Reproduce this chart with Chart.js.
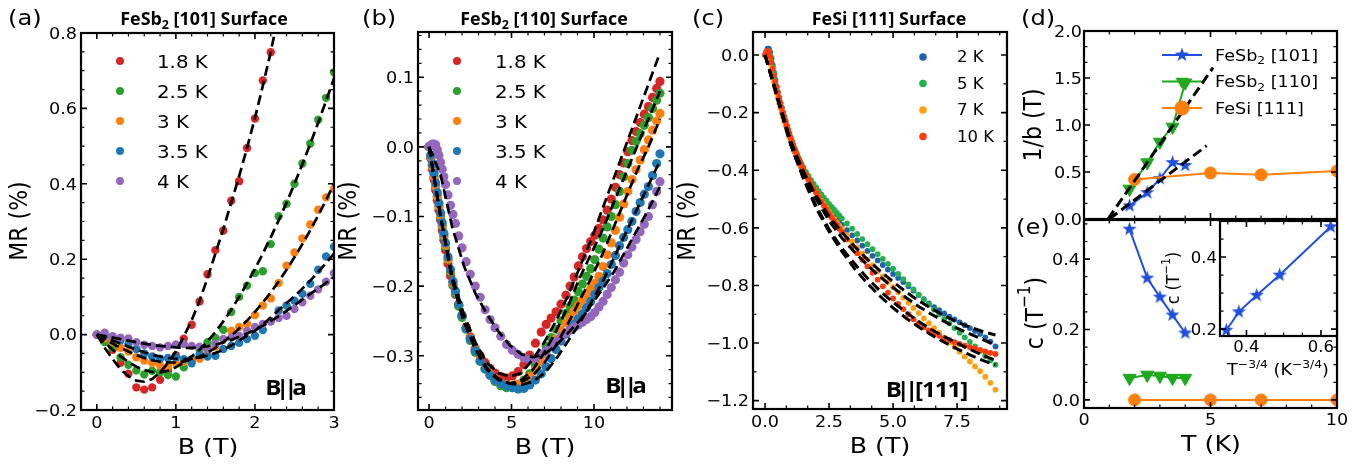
<!DOCTYPE html>
<html><head><meta charset="utf-8">
<script src="https://cdn.jsdelivr.net/npm/chart.js@4.4.1/dist/chart.umd.min.js"></script>
<style>
html,body{margin:0;padding:0;background:#fff;}
body{width:1371px;height:464px;position:relative;overflow:hidden;}
canvas{position:absolute;left:0;top:0;}
</style></head>
<body>
<canvas id="pa" width="1371" height="464"></canvas>
<canvas id="pb" width="1371" height="464"></canvas>
<canvas id="pc" width="1371" height="464"></canvas>
<canvas id="pd" width="1371" height="464"></canvas>
<canvas id="pe" width="1371" height="464"></canvas>
<canvas id="pi" width="1371" height="464"></canvas>
<script>
// ================= DATA =================
// ---- (a) FeSb2 [101] surface ----
const aLabels = ['1.8 K','2.5 K','3 K','3.5 K','4 K'];
const aB = [0,0.1,0.2,0.3,0.4,0.5,0.6,0.7,0.8,0.9,1.0,1.1,1.2,1.3,1.4,1.5,1.6,1.7,1.8,1.9,2.0,2.1,2.2,2.3,2.4,2.5,2.6,2.7,2.8,2.9,3.0];
const aMR18 = [0,-0.015,-0.04,-0.075,-0.104,-0.14,-0.146,-0.14,-0.12,-0.095,-0.055,-0.011,0.026,0.088,0.16,0.224,0.276,0.355,0.407,0.495,0.573,0.674,0.749];
const aMR25 = [0,-0.02,-0.035,-0.06,-0.08,-0.095,-0.106,-0.096,-0.1,-0.107,-0.111,-0.087,-0.065,-0.04,-0.02,-0.009,0.013,0.06,0.1,0.13,0.163,0.168,0.24,0.314,0.347,0.4,0.454,0.507,0.57,0.628,0.696];
const aMR3  = [0,-0.01,-0.02,-0.035,-0.045,-0.06,-0.069,-0.075,-0.082,-0.085,-0.076,-0.072,-0.068,-0.064,-0.05,-0.032,-0.012,0.01,0.02,0.028,0.052,0.077,0.096,0.137,0.183,0.218,0.255,0.292,0.331,0.364,0.386];
const aMR35 = [0,-0.003,-0.005,-0.015,-0.025,-0.038,-0.05,-0.058,-0.064,-0.062,-0.06,-0.065,-0.076,-0.053,-0.058,-0.056,-0.038,-0.03,-0.022,-0.012,-0.003,0.012,0.035,0.064,0.077,0.09,0.108,0.135,0.172,0.207,0.233];
const aMR4  = [0,0.005,-0.005,-0.008,-0.01,-0.02,-0.027,-0.03,-0.034,-0.03,-0.026,-0.025,-0.03,-0.032,-0.038,-0.025,-0.012,-0.008,-0.003,0.01,0.02,0.028,0.035,0.044,0.05,0.068,0.086,0.103,0.12,0.14,0.163];
const aFitB18 = [0,0.1,0.2,0.3,0.4,0.5,0.6,0.7,0.8,0.9,1.0,1.1,1.2,1.3,1.4,1.5,1.6,1.7,1.8,1.9,2.0,2.1,2.2,2.25];
const aFit18 = [0,-0.035,-0.065,-0.092,-0.11,-0.122,-0.125,-0.118,-0.1,-0.075,-0.045,-0.005,0.038,0.09,0.15,0.215,0.28,0.35,0.42,0.495,0.575,0.66,0.75,0.8];
const aFit25 = [0,-0.02,-0.04,-0.058,-0.073,-0.085,-0.094,-0.099,-0.1,-0.096,-0.087,-0.073,-0.058,-0.04,-0.018,0.007,0.035,0.066,0.1,0.136,0.174,0.215,0.258,0.303,0.35,0.4,0.452,0.506,0.562,0.62,0.68];
const aFit3  = [0,-0.012,-0.024,-0.035,-0.045,-0.054,-0.062,-0.068,-0.072,-0.074,-0.074,-0.071,-0.066,-0.058,-0.048,-0.035,-0.02,-0.003,0.016,0.037,0.06,0.085,0.112,0.141,0.172,0.205,0.24,0.277,0.316,0.357,0.4];
const aFit35 = [0,-0.008,-0.016,-0.024,-0.032,-0.04,-0.047,-0.053,-0.058,-0.062,-0.064,-0.065,-0.064,-0.061,-0.056,-0.049,-0.04,-0.029,-0.016,-0.003,0.01,0.027,0.045,0.065,0.083,0.102,0.122,0.143,0.166,0.19,0.215];
const aFit4  = [0,-0.004,-0.008,-0.012,-0.016,-0.02,-0.024,-0.027,-0.03,-0.032,-0.034,-0.035,-0.035,-0.034,-0.031,-0.027,-0.021,-0.014,-0.006,0.003,0.013,0.024,0.036,0.049,0.063,0.078,0.093,0.108,0.122,0.137,0.152];
const aXTicks = [0,1,2,3];
const aYTicks = [-0.2,0,0.2,0.4,0.6,0.8];

// ---- (b) FeSb2 [110] surface ----
const bLabels = ['1.8 K','2.5 K','3 K','3.5 K','4 K'];
const bB = [0,0.1,0.2,0.3,0.4,0.5,0.6,0.7,0.8,0.9,1.0,1.15,1.3,1.45,1.6,1.8,2.0,2.25,2.5,2.8,3.1,3.4,3.7,4.0,4.35,4.7,5.05,5.4,5.75,6.1,6.45,6.8,7.1,7.4,7.7,8.0,8.3,8.55,8.8,9.05,9.3,9.55,9.8,10.05,10.3,10.55,10.8,11.05,11.3,11.55,11.8,12.05,12.3,12.55,12.8,13.05,13.3,13.55,13.8,14.0];
const bMR18 = [0,-0.016,-0.032,-0.047,-0.062,-0.077,-0.091,-0.105,-0.12,-0.134,-0.148,-0.168,-0.185,-0.199,-0.212,-0.228,-0.243,-0.259,-0.273,-0.29,-0.3,-0.31,-0.318,-0.325,-0.33,-0.332,-0.329,-0.323,-0.313,-0.299,-0.282,-0.266,-0.255,-0.246,-0.237,-0.226,-0.213,-0.2,-0.187,-0.171,-0.158,-0.146,-0.136,-0.127,-0.117,-0.105,-0.091,-0.075,-0.058,-0.04,-0.023,-0.007,0.009,0.022,0.035,0.047,0.058,0.071,0.084,0.094];
const bMR25 = [0,-0.014,-0.029,-0.043,-0.057,-0.071,-0.086,-0.1,-0.114,-0.129,-0.143,-0.162,-0.18,-0.197,-0.211,-0.229,-0.245,-0.262,-0.278,-0.295,-0.308,-0.319,-0.328,-0.337,-0.343,-0.346,-0.345,-0.341,-0.335,-0.326,-0.314,-0.298,-0.286,-0.274,-0.262,-0.25,-0.239,-0.229,-0.22,-0.208,-0.197,-0.186,-0.175,-0.162,-0.147,-0.131,-0.115,-0.1,-0.083,-0.064,-0.043,-0.024,-0.005,0.008,0.019,0.031,0.042,0.055,0.067,0.077];
const bMR3  = [0,-0.014,-0.028,-0.043,-0.057,-0.071,-0.085,-0.098,-0.112,-0.127,-0.141,-0.161,-0.178,-0.195,-0.208,-0.226,-0.242,-0.26,-0.275,-0.292,-0.306,-0.317,-0.326,-0.333,-0.339,-0.342,-0.343,-0.341,-0.337,-0.33,-0.321,-0.309,-0.298,-0.287,-0.276,-0.264,-0.253,-0.245,-0.236,-0.228,-0.22,-0.212,-0.204,-0.196,-0.186,-0.172,-0.155,-0.138,-0.12,-0.101,-0.082,-0.064,-0.047,-0.033,-0.019,-0.004,0.01,0.024,0.037,0.048];
const bMR35 = [0,-0.012,-0.025,-0.038,-0.052,-0.066,-0.081,-0.095,-0.109,-0.124,-0.138,-0.158,-0.176,-0.193,-0.207,-0.226,-0.242,-0.261,-0.276,-0.293,-0.308,-0.319,-0.328,-0.335,-0.34,-0.343,-0.346,-0.348,-0.347,-0.342,-0.335,-0.326,-0.316,-0.304,-0.291,-0.279,-0.269,-0.263,-0.255,-0.247,-0.24,-0.231,-0.222,-0.212,-0.202,-0.193,-0.182,-0.169,-0.156,-0.142,-0.13,-0.119,-0.107,-0.093,-0.08,-0.068,-0.057,-0.041,-0.024,-0.01];
const bMR4  = [0,0.002,0.004,0.004,0.003,-0.004,-0.012,-0.022,-0.032,-0.043,-0.054,-0.069,-0.084,-0.097,-0.11,-0.128,-0.145,-0.165,-0.183,-0.2,-0.216,-0.234,-0.248,-0.26,-0.272,-0.284,-0.292,-0.298,-0.303,-0.306,-0.304,-0.298,-0.293,-0.287,-0.28,-0.273,-0.267,-0.263,-0.259,-0.256,-0.252,-0.248,-0.244,-0.238,-0.23,-0.222,-0.212,-0.202,-0.191,-0.18,-0.167,-0.155,-0.144,-0.133,-0.122,-0.111,-0.1,-0.083,-0.064,-0.05];
const bFitB = [0,0.7,1.4,2.1,2.8,3.5,4.2,4.9,5.6,6.3,7.0,7.7,8.4,9.1,9.8,10.5,11.2,11.9,12.6,13.3,14.0];
const bFit18 = [0,-0.1,-0.185,-0.24,-0.28,-0.31,-0.325,-0.33,-0.325,-0.305,-0.28,-0.25,-0.215,-0.175,-0.135,-0.09,-0.045,0.0,0.045,0.09,0.135];
const bFit25 = [0,-0.1,-0.19,-0.25,-0.29,-0.32,-0.335,-0.34,-0.335,-0.32,-0.295,-0.265,-0.23,-0.19,-0.155,-0.12,-0.08,-0.04,0.0,0.04,0.08];
const bFit3  = [0,-0.1,-0.19,-0.25,-0.29,-0.318,-0.333,-0.34,-0.338,-0.328,-0.31,-0.285,-0.255,-0.222,-0.19,-0.155,-0.115,-0.075,-0.035,0.0,0.04];
const bFit35 = [0,-0.1,-0.19,-0.25,-0.29,-0.318,-0.333,-0.34,-0.342,-0.337,-0.325,-0.305,-0.28,-0.255,-0.225,-0.195,-0.16,-0.125,-0.09,-0.055,-0.02];
const bFit4  = [0,-0.04,-0.115,-0.17,-0.21,-0.24,-0.265,-0.285,-0.298,-0.302,-0.298,-0.285,-0.268,-0.25,-0.228,-0.205,-0.18,-0.15,-0.12,-0.09,-0.057];
const bXTicks = [0,5,10];
const bYTicks = [-0.3,-0.2,-0.1,0,0.1];

// ---- (c) FeSi [111] surface ----
const cLabels = ['2 K','5 K','7 K','10 K'];
const cB = [0,0.05,0.1,0.15,0.2,0.25,0.3,0.35,0.4,0.45,0.5,0.55,0.6,0.65,0.7,0.75,0.8,0.85,0.9,0.95,1.0,1.05,1.1,1.15,1.2,1.25,1.3,1.35,1.4,1.45,1.5,
  1.6,1.7,1.8,1.9,2.0,2.1,2.2,2.3,2.4,2.5,2.6,2.7,2.8,2.9,3.0,
  3.2,3.4,3.6,3.8,4.0,4.2,4.4,4.6,4.8,5.0,5.2,5.4,5.6,5.8,6.0,6.2,6.4,6.6,6.8,7.0,7.2,7.4,7.6,7.8,8.0,8.2,8.4,8.6,8.8,9.0];
const cMR2  = [0,0.012,0.022,0.022,0.01,-0.012,-0.035,-0.06,-0.085,-0.108,-0.128,-0.148,-0.166,-0.183,-0.2,-0.217,-0.233,-0.249,-0.265,-0.28,-0.295,-0.308,-0.321,-0.334,-0.346,-0.357,-0.368,-0.378,-0.388,-0.397,-0.405,
  -0.42,-0.435,-0.449,-0.463,-0.477,-0.49,-0.503,-0.515,-0.527,-0.538,-0.549,-0.56,-0.57,-0.58,-0.59,
  -0.608,-0.626,-0.644,-0.662,-0.68,-0.697,-0.713,-0.729,-0.745,-0.76,-0.774,-0.788,-0.803,-0.818,-0.833,-0.848,-0.862,-0.875,-0.886,-0.897,-0.908,-0.918,-0.928,-0.938,-0.948,-0.958,-0.968,-0.98,-0.995,-1.012];
const cMR5  = [0,0.008,0.015,0.013,0,-0.02,-0.042,-0.065,-0.088,-0.11,-0.13,-0.148,-0.165,-0.182,-0.198,-0.214,-0.229,-0.244,-0.258,-0.272,-0.286,-0.299,-0.311,-0.323,-0.334,-0.345,-0.355,-0.365,-0.374,-0.383,-0.391,
  -0.406,-0.42,-0.434,-0.447,-0.46,-0.472,-0.484,-0.495,-0.506,-0.517,-0.527,-0.537,-0.547,-0.557,-0.567,
  -0.585,-0.603,-0.621,-0.639,-0.657,-0.674,-0.691,-0.708,-0.725,-0.742,-0.76,-0.778,-0.796,-0.814,-0.832,-0.85,-0.867,-0.884,-0.9,-0.916,-0.932,-0.948,-0.964,-0.98,-0.996,-1.012,-1.028,-1.045,-1.06,-1.075];
const cMR7  = [0,0.004,0.002,-0.012,-0.03,-0.05,-0.072,-0.093,-0.113,-0.132,-0.15,-0.167,-0.183,-0.199,-0.214,-0.229,-0.243,-0.257,-0.27,-0.283,-0.296,-0.308,-0.32,-0.332,-0.343,-0.354,-0.364,-0.374,-0.384,-0.393,-0.402,
  -0.418,-0.434,-0.449,-0.464,-0.478,-0.492,-0.506,-0.519,-0.532,-0.545,-0.557,-0.569,-0.581,-0.592,-0.603,
  -0.625,-0.647,-0.668,-0.689,-0.71,-0.73,-0.75,-0.769,-0.788,-0.806,-0.824,-0.842,-0.86,-0.878,-0.896,-0.914,-0.931,-0.948,-0.965,-0.982,-0.998,-1.014,-1.03,-1.047,-1.064,-1.081,-1.098,-1.117,-1.138,-1.162];
const cMR10 = [0,0.01,0.015,0.01,-0.005,-0.025,-0.048,-0.07,-0.092,-0.112,-0.131,-0.149,-0.166,-0.183,-0.199,-0.215,-0.23,-0.245,-0.259,-0.273,-0.287,-0.3,-0.313,-0.325,-0.337,-0.348,-0.359,-0.369,-0.379,-0.389,-0.398,
  -0.415,-0.432,-0.448,-0.464,-0.479,-0.494,-0.509,-0.523,-0.537,-0.551,-0.564,-0.577,-0.59,-0.603,-0.615,
  -0.64,-0.664,-0.688,-0.711,-0.734,-0.756,-0.78,-0.803,-0.825,-0.845,-0.864,-0.882,-0.9,-0.917,-0.932,-0.945,-0.956,-0.966,-0.975,-0.983,-0.99,-0.997,-1.003,-1.009,-1.014,-1.019,-1.024,-1.029,-1.034,-1.038];
const cFitB = [0,0.5,1.0,1.5,2.0,2.5,3.0,3.5,4.0,4.5,5.0,5.5,6.0,6.5,7.0,7.5,8.0,8.5,9.0];
const cFit1 = [0,-0.15,-0.3,-0.405,-0.49,-0.56,-0.615,-0.665,-0.71,-0.75,-0.787,-0.822,-0.853,-0.88,-0.905,-0.927,-0.945,-0.96,-0.972];
const cFit2 = [0,-0.15,-0.3,-0.41,-0.5,-0.575,-0.635,-0.685,-0.73,-0.77,-0.807,-0.842,-0.873,-0.9,-0.925,-0.948,-0.968,-0.988,-1.007];
const cFit3 = [0,-0.155,-0.31,-0.425,-0.525,-0.605,-0.67,-0.725,-0.775,-0.82,-0.858,-0.893,-0.925,-0.953,-0.978,-1.0,-1.022,-1.042,-1.06];
const cFit4 = [0,-0.155,-0.31,-0.43,-0.532,-0.613,-0.682,-0.742,-0.793,-0.838,-0.878,-0.913,-0.944,-0.972,-0.997,-1.02,-1.041,-1.06,-1.076];
const cXTicks = [0,2.5,5,7.5];
const cYTicks = [-1.2,-1.0,-0.8,-0.6,-0.4,-0.2,0];

// ---- (d) 1/b vs T ----
const dT101 = [1.8,2.5,3,3.5,4];
const d101  = [0.14,0.28,0.43,0.6,0.57];
const dT110 = [1.8,2.5,3,3.5,4];
const d110  = [0.32,0.6,0.82,0.98,1.45];
const dTSi  = [2,5,7,10];
const dSi   = [0.42,0.49,0.47,0.51];
const dFit1T = [0.95,5.1];
const dFit1  = [0,1.61];
const dFit2T = [1.0,4.85];
const dFit2  = [0,0.78];
const dXTicks = [0,5,10];
const dYTicks = [0,0.5,1,1.5,2];

// ---- (e) c vs T ----
const eT101 = [1.8,2.5,3,3.5,4];
const e101  = [0.485,0.346,0.292,0.241,0.19];
const eT110 = [1.8,2.5,3,3.5,4];
const e110  = [0.062,0.071,0.068,0.062,0.062];
const eTSi  = [2,5,7,10];
const eSi   = [0,0,0,0];
const eXTicks = [0,5,10];
const eYTicks = [0,0.2,0.4];

// ---- inset: c vs T^-3/4 ----
const iX = [0.626,0.489,0.4275,0.3795,0.346];
const iC = [0.484,0.35,0.294,0.248,0.197];
const iXTicks = [0.4,0.6];
const iYTicks = [0.2,0.4];

// ================= STYLE / DRAW =================
const W = 1371, H = 464, SX = 1.1;
const TAB = ['#d62728','#2ca02c','#ff7f0e','#1f77b4','#9467bd'];
const CCOL = ['#1f62b0','#22b14c','#ffa010','#ff3a0a'];
const DBLUE = '#1f4fdb', DGREEN = '#1ea81e', DORANGE = '#ff7f0e';

function fmt(v, d){ const s = Math.abs(v).toFixed(d); return (v < -1e-9 ? '\u2212' : '') + s; }

function txt(ctx, o){
  const parts = typeof o.t === 'string' ? [{t:o.t}] : o.t;
  const size = o.size || 16, fam = o.fam || 'DejaVu Sans', wt = o.wt || 'normal';
  ctx.save();
  ctx.translate(o.x, o.y);
  ctx.scale(o.sx || SX, 1);
  if (o.rot) ctx.rotate(o.rot * Math.PI / 180);
  ctx.textBaseline = o.base || 'alphabetic';
  ctx.textAlign = 'left';
  ctx.fillStyle = o.color || '#000';
  let w = 0;
  const segs = parts.map(p => {
    const s = p.s ? size * 0.7 : size;
    const f = wt + ' ' + s + 'px "' + fam + '"';
    ctx.font = f;
    const mw = ctx.measureText(p.t).width;
    const k = p.k || 0;
    w += mw + k;
    return {t:p.t, f, w:mw, k, dy: p.s === 'sub' ? size * 0.22 : (p.s === 'sup' ? -size * 0.42 : 0)};
  });
  let cx = o.align === 'center' ? -w/2 : (o.align === 'right' ? -w : 0);
  for (const s of segs){ cx += s.k; ctx.font = s.f; ctx.fillText(s.t, cx, s.dy); cx += s.w; }
  ctx.restore();
}

function marker(c, m, x, y, r, col){
  c.save(); c.fillStyle = col; c.beginPath();
  if (m === 'circle') c.arc(x, y, r, 0, 2*Math.PI);
  else if (m === 'star'){
    for (let i = 0; i < 10; i++){
      const rr = i % 2 ? r * 0.4 : r; const an = -Math.PI/2 + i * Math.PI / 5;
      c.lineTo(x + rr*Math.cos(an), y + rr*Math.sin(an));
    }
    c.closePath();
  } else if (m === 'tri'){
    c.moveTo(x, y + r); c.lineTo(x - r*0.866, y - r*0.5); c.lineTo(x + r*0.866, y - r*0.5); c.closePath();
  }
  c.fill(); c.restore();
}
function starImg(r, col){
  const s = Math.ceil(2*r + 2); const cv = document.createElement('canvas'); cv.width = cv.height = s;
  marker(cv.getContext('2d'), 'star', s/2, s/2, r, col); return cv;
}

const decoPlugin = {
  id: 'deco',
  beforeDatasetsDraw(chart, args, o){
    if (!o.bg) return;
    const a = chart.chartArea, c = chart.ctx;
    c.save(); c.fillStyle = '#fff'; c.fillRect(a.left, a.top, a.right - a.left, a.bottom - a.top); c.restore();
  },
  afterDatasetsDraw(chart, args, o){
    const c = chart.ctx, a = chart.chartArea, xs = chart.scales.x, ys = chart.scales.y;
    const inR = (s, v) => v >= s.min - 1e-9 && v <= s.max + 1e-9;
    const minors = (s, step, maj) => {
      const out = []; const n0 = Math.ceil(s.min/step - 1e-6), n1 = Math.floor(s.max/step + 1e-6);
      for (let n = n0; n <= n1; n++){ const v = n*step; if (!maj.some(m => Math.abs(m - v) < step*0.01)) out.push(v); }
      return out;
    };
    c.save(); c.strokeStyle = '#000';
    const tx = (v, len, lw) => { const p = xs.getPixelForValue(v); c.lineWidth = lw; c.beginPath();
      c.moveTo(p, a.bottom); c.lineTo(p, a.bottom - len); c.moveTo(p, a.top); c.lineTo(p, a.top + len); c.stroke(); };
    const ty = (v, len, lw) => { const p = ys.getPixelForValue(v); c.lineWidth = lw; c.beginPath();
      c.moveTo(a.left, p); c.lineTo(a.left + len, p); c.moveTo(a.right, p); c.lineTo(a.right - len, p); c.stroke(); };
    minors(xs, o.xMinor, o.xMajor).forEach(v => tx(v, 3.5, 1.2));
    o.xMajor.filter(v => inR(xs, v)).forEach(v => tx(v, 6, 1.6));
    minors(ys, o.yMinor, o.yMajor).forEach(v => ty(v, 3.5, 1.2));
    o.yMajor.filter(v => inR(ys, v)).forEach(v => ty(v, 6, 1.6));
    c.lineWidth = 2.2;
    c.strokeRect(a.left, a.top, a.right - a.left, a.bottom - a.top);
    c.restore();
    const fs = o.tickSize || 16;
    if (o.xLab) o.xMajor.filter(v => inR(xs, v)).forEach(v =>
      txt(c, {t: fmt(v, o.xLab.dec), x: xs.getPixelForValue(v), y: a.bottom + o.xLab.off, size: fs, align: 'center'}));
    if (o.yLab) o.yMajor.filter(v => inR(ys, v)).forEach(v =>
      txt(c, {t: fmt(v, o.yLab.dec), x: a.left - o.yLab.gap, y: ys.getPixelForValue(v) + fs*0.365, size: fs, align: 'right'}));
    if (o.legend){
      const L = o.legend;
      L.items.forEach((it, i) => {
        const y = L.y0 + i * L.dy;
        if (L.line){ c.save(); c.strokeStyle = it.c; c.lineWidth = 2; c.beginPath(); c.moveTo(L.line[0], y); c.lineTo(L.line[1], y); c.stroke(); c.restore(); }
        marker(c, it.m, L.mx, y, L.r, it.c);
        txt(c, {t: it.t, x: L.tx, y: y + L.size*0.365, size: L.size});
      });
    }
    (o.texts || []).forEach(t => txt(c, t));
  }
};

Chart.defaults.font.family = 'DejaVu Sans';
const xy = (xs, ys) => ys.map((y, i) => ({x: xs[i], y}));
function dots(xs, ys, col, r, order){
  return {data: xy(xs, ys), backgroundColor: col, borderColor: col, borderWidth: 0, pointRadius: r, pointStyle: 'circle', showLine: false, order, clip: 0};
}
function dashed(xs, ys, order, w, dash){
  return {data: xy(xs, ys), borderColor: '#000', borderWidth: w, borderDash: dash, pointRadius: 0, showLine: true, fill: false, tension: 0, order, clip: 0};
}
function series(xs, ys, col, style, r, rot, order){
  return {data: xy(xs, ys), showLine: true, borderColor: col, borderWidth: 2, backgroundColor: col,
    pointBackgroundColor: col, pointBorderColor: col, pointBorderWidth: 1, pointStyle: style, pointRadius: r, pointRotation: rot || 0, tension: 0, order, clip: 0};
}
function mk(id, area, xr, yr, datasets, deco){
  return new Chart(document.getElementById(id), {
    type: 'scatter',
    data: {datasets},
    options: {
      responsive: false, animation: false, events: [], devicePixelRatio: 1,
      layout: {padding: {left: area[0], top: area[1], right: W - area[2], bottom: H - area[3]}},
      scales: {x: {type: 'linear', display: false, min: xr[0], max: xr[1]},
               y: {type: 'linear', display: false, min: yr[0], max: yr[1]}},
      plugins: {legend: {display: false}, tooltip: {enabled: false}, deco}
    },
    plugins: [decoPlugin]
  });
}
const sub2 = (a, b) => [{t:a},{t:'2',s:'sub'},{t:b}];
const BPAR = [{t:'B'},{t:'|',k:-5},{t:'|',k:-4.5}];
const TT = {fam:'Open Sans', wt:'bold', size:17, sx:1.05, align:'center'};
const AX = {size:22, sx:1.15, align:'center'};

// ---- (a) ----
mk('pa', [81,33,334,410], [-0.2,3.0], [-0.2,0.8], [
  dots(aB, aMR18, TAB[0], 4.2, 6), dots(aB, aMR25, TAB[1], 4.2, 5), dots(aB, aMR3, TAB[2], 4.2, 4),
  dots(aB, aMR35, TAB[3], 4.2, 3), dots(aB, aMR4, TAB[4], 4.2, 2),
  dashed(aFitB18, aFit18, 1, 2.7, [10,5]), dashed(aB, aFit25, 1, 2.7, [10,5]), dashed(aB, aFit3, 1, 2.7, [10,5]),
  dashed(aB, aFit35, 1, 2.7, [10,5]), dashed(aB, aFit4, 1, 2.7, [10,5])
], {
  xMajor: aXTicks, xMinor: 0.2, yMajor: aYTicks, yMinor: 0.05,
  xLab: {dec: 0, off: 18}, yLab: {dec: 1, gap: 4},
  legend: {items: aLabels.map((t, i) => ({t, c: TAB[i], m: 'circle'})), mx: 120, tx: 157, y0: 61, dy: 30, size: 18, r: 4},
  texts: [
    {t:'(a)', x:8, y:25, size:22},
    Object.assign({t: sub2('FeSb',' [101] Surface'), x:204, y:25}, TT),
    Object.assign({t:'B (T)', x:208, y:454}, AX),
    Object.assign({t:'MR (%)', x:20, y:221, rot:-90, base:'middle'}, AX),
    {t: BPAR.concat([{t:'a',k:-5}]), x:286, y:395, size:22, fam:'Open Sans', wt:'bold', align:'center'}
  ]
});

// ---- (b) ----
mk('pb', [418,32,672,410], [-0.67,14.73], [-0.378,0.165], [
  dots(bB, bMR18, TAB[0], 4.6, 6), dots(bB, bMR25, TAB[1], 4.6, 5), dots(bB, bMR3, TAB[2], 4.6, 4),
  dots(bB, bMR35, TAB[3], 4.6, 3), dots(bB, bMR4, TAB[4], 4.6, 2),
  dashed(bFitB, bFit18, 1, 2.7, [10,5]), dashed(bFitB, bFit25, 1, 2.7, [10,5]), dashed(bFitB, bFit3, 1, 2.7, [10,5]),
  dashed(bFitB, bFit35, 1, 2.7, [10,5]), dashed(bFitB, bFit4, 1, 2.7, [10,5])
], {
  xMajor: bXTicks, xMinor: 1, yMajor: bYTicks, yMinor: 0.02,
  xLab: {dec: 0, off: 18}, yLab: {dec: 1, gap: 4},
  legend: {items: bLabels.map((t, i) => ({t, c: TAB[i], m: 'circle'})), mx: 457, tx: 495, y0: 61, dy: 30, size: 18, r: 4},
  texts: [
    {t:'(b)', x:362, y:25, size:22},
    Object.assign({t: sub2('FeSb',' [110] Surface'), x:544, y:25}, TT),
    Object.assign({t:'B (T)', x:545, y:454}, AX),
    Object.assign({t:'MR (%)', x:349, y:221, rot:-90, base:'middle'}, AX),
    {t: BPAR.concat([{t:'a',k:-5}]), x:626, y:393, size:22, fam:'Open Sans', wt:'bold', align:'center'}
  ]
});

// ---- (c) ----
mk('pc', [753,32,1007,409], [-0.47,9.45], [-1.229,0.08], [
  dots(cB, cMR2, CCOL[0], 2.9, 5), dots(cB, cMR5, CCOL[1], 2.9, 4), dots(cB, cMR7, CCOL[2], 2.9, 3), dots(cB, cMR10, CCOL[3], 2.9, 2),
  dashed(cFitB, cFit1, 1, 3, [10,5]), dashed(cFitB, cFit2, 1, 3, [10,5]), dashed(cFitB, cFit3, 1, 3, [10,5]), dashed(cFitB, cFit4, 1, 3, [10,5])
], {
  xMajor: cXTicks, xMinor: 2.5/3, yMajor: cYTicks, yMinor: 0.1,
  xLab: {dec: 1, off: 18}, yLab: {dec: 1, gap: 4},
  legend: {items: cLabels.map((t, i) => ({t, c: CCOL[i], m: 'circle'})), mx: 923, tx: 957, y0: 57, dy: 26.5, size: 15, r: 3.8},
  texts: [
    {t:'(c)', x:692, y:25, size:22},
    Object.assign({t:'FeSi [111] Surface', x:889, y:25}, TT),
    Object.assign({t:'B (T)', x:880, y:453}, AX),
    Object.assign({t:'MR (%)', x:688, y:221, rot:-90, base:'middle'}, AX),
    {t: BPAR.concat([{t:'[',k:-3},{t:'1',k:-1},{t:'1',k:-1},{t:'1',k:-1},{t:']',k:-1}]), x:927, y:397, size:22, fam:'Open Sans', wt:'bold', align:'center'}
  ]
});

// ---- (d) ----
const star8B = starImg(7.5, DBLUE);
mk('pd', [1084,31,1337,219], [0,10], [0,2], [
  series(dT101, d101, DBLUE, star8B, 7.5, 0, 3),
  series(dT110, d110, DGREEN, 'triangle', 7.5, 180, 2),
  series(dTSi, dSi, DORANGE, 'circle', 6, 0, 1),
  dashed(dFit1T, dFit1, 0, 3, [10,5]), dashed(dFit2T, dFit2, 0, 3, [10,5])
], {
  xMajor: dXTicks, xMinor: 1, yMajor: dYTicks, yMinor: 0.5/3,
  yLab: {dec: 1, gap: 2},
  legend: {items: [
    {t: sub2('FeSb',' [101]'), c: DBLUE, m: 'star'},
    {t: sub2('FeSb',' [110]'), c: DGREEN, m: 'tri'},
    {t: 'FeSi [111]', c: DORANGE, m: 'circle'}
  ], line: [1162,1202], mx: 1182, tx: 1215, y0: 55, dy: 26.5, size: 16, r: 7.5},
  texts: [
    {t:'(d)', x:1021, y:25, size:22},
    Object.assign({t:'1/b (T)', x:1034, y:125, rot:-90, base:'middle'}, AX)
  ]
});

// ---- (e) ----
mk('pe', [1084,220,1337,408], [0,10], [-0.023,0.511], [
  series(eT101, e101, DBLUE, star8B, 7.5, 0, 3),
  series(eT110, e110, DGREEN, 'triangle', 7.5, 180, 2),
  series(eTSi, eSi, DORANGE, 'circle', 6, 0, 1)
], {
  xMajor: eXTicks, xMinor: 1, yMajor: eYTicks, yMinor: 0.05,
  xLab: {dec: 0, off: 17}, yLab: {dec: 1, gap: 4},
  texts: [
    {t:'(e)', x:1016, y:234, size:22},
    Object.assign({t:[{t:'c (T'},{t:'\u22121',s:'sup'},{t:')'}], x:1036, y:313, rot:-90, base:'middle'}, AX),
    Object.assign({t:'T (K)', x:1211, y:451}, AX)
  ]
});

// ---- inset ----
mk('pi', [1220,221,1337,336], [0.329,0.643], [0.181,0.5], [
  series(iX, iC, DBLUE, star8B, 7.5, 0, 1)
], {
  bg: true,
  xMajor: iXTicks, xMinor: 0.05, yMajor: iYTicks, yMinor: 0.05,
  xLab: {dec: 1, off: 16}, yLab: {dec: 1, gap: 3}, tickSize: 15,
  texts: [
    {t:[{t:'c (T'},{t:'\u22121',s:'sup'},{t:')'}], x:1174, y:278, size:16, align:'center', rot:-90, base:'middle'},
    {t:[{t:'T'},{t:'\u22123/4',s:'sup'},{t:' (K'},{t:'\u22123/4',s:'sup'},{t:')'}], x:1278, y:375, size:16, align:'center'}
  ]
});
</script>
</body></html>
